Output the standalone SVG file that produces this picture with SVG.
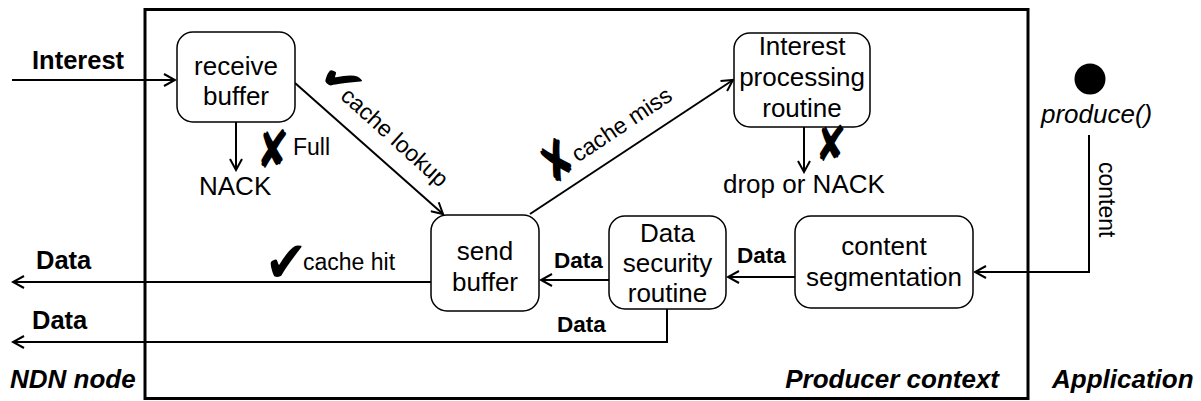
<svg xmlns="http://www.w3.org/2000/svg" width="1201" height="401" viewBox="0 0 1201 401">
<style>
text{font-family:"Liberation Sans",Arial,sans-serif;fill:#000}
.n{font-size:26px;text-anchor:middle}
.t{font-size:26px}
.s{font-size:23px}
.b{font-size:25.5px;font-weight:bold}
.bs{font-size:22.5px;font-weight:bold}
.bi{font-size:26px;font-weight:bold;font-style:italic}
.i{font-size:26px;font-style:italic}
.sym{font-family:"DejaVu Sans",sans-serif;font-size:34px;text-anchor:middle}
.box{fill:#fff;stroke:#000;stroke-width:1.5}
.c{fill:none;stroke:#000;stroke-width:2}
</style>
<defs>
<marker id="arr" markerWidth="14" markerHeight="14" refX="12" refY="7" orient="auto" markerUnits="userSpaceOnUse">
<path d="M1,1 L12,7 L1,13" fill="none" stroke="#000" stroke-width="2"/>
</marker>
</defs>
<rect id="producer-context" x="145" y="9.5" width="883" height="389" fill="none" stroke="#000" stroke-width="3"/>
<g id="connectors">
<line class="c" x1="12" y1="80" x2="175" y2="80" marker-end="url(#arr)"/>
<line class="c" x1="236" y1="122" x2="236" y2="170" marker-end="url(#arr)"/>
<line class="c" x1="295" y1="83" x2="443" y2="214" marker-end="url(#arr)"/>
<line class="c" x1="530" y1="214" x2="733" y2="80" marker-end="url(#arr)"/>
<line class="c" x1="804" y1="127" x2="804" y2="172" marker-end="url(#arr)"/>
<polyline class="c" points="1089,135 1089,272 975,272" marker-end="url(#arr)"/>
<line class="c" x1="795" y1="277" x2="728" y2="277" marker-end="url(#arr)"/>
<line class="c" x1="609" y1="280" x2="541" y2="280" marker-end="url(#arr)"/>
<line class="c" x1="431" y1="282" x2="13" y2="282" marker-end="url(#arr)"/>
<polyline class="c" points="667,309 667,342 13,342" marker-end="url(#arr)"/>
</g>
<g id="receive-buffer">
<rect class="box" x="177" y="32" width="118" height="90" rx="16"/>
<text class="n" x="236" y="75">receive</text>
<text class="n" x="236" y="105">buffer</text>
</g>
<g id="send-buffer">
<rect class="box" x="431" y="215" width="108" height="96" rx="16"/>
<text class="n" x="485" y="260">send</text>
<text class="n" x="485" y="291">buffer</text>
</g>
<g id="interest-processing-routine">
<rect class="box" x="734" y="33" width="136" height="94" rx="16"/>
<text class="n" x="802" y="55">Interest</text>
<text class="n" x="802" y="86">processing</text>
<text class="n" x="802" y="117">routine</text>
</g>
<g id="data-security-routine">
<rect class="box" x="609" y="216" width="117" height="93" rx="16"/>
<text class="n" x="667.5" y="242">Data</text>
<text class="n" x="667.5" y="272">security</text>
<text class="n" x="667.5" y="302">routine</text>
</g>
<g id="content-segmentation">
<rect class="box" x="795" y="216" width="178" height="92" rx="16"/>
<text class="n" x="884" y="255">content</text>
<text class="n" x="884" y="286">segmentation</text>
</g>
<g id="produce">
<circle cx="1090" cy="79" r="15.5" fill="#000"/>
<text class="i" x="1041" y="123">produce()</text>
</g>
<g id="labels">
<text class="b" x="32" y="69">Interest</text>
<text class="t" x="199" y="195">NACK</text>
<text class="s" x="293" y="155">Full</text>
<text class="t" x="723" y="193">drop or NACK</text>
<text class="s" transform="translate(389.5,143) rotate(42)" text-anchor="middle">cache lookup</text>
<text class="s" transform="translate(626,131) rotate(-33.6)" text-anchor="middle">cache miss</text>
<text class="s" x="303" y="270">cache hit</text>
<text class="s" transform="translate(1099,162) rotate(90)">content</text>
<text class="b" x="36" y="269">Data</text>
<text class="b" x="32" y="329">Data</text>
<text class="bs" x="554" y="268">Data</text>
<text class="bs" x="737" y="263">Data</text>
<text class="bs" x="557" y="332">Data</text>
<text class="bi" x="10" y="388">NDN node</text>
<text class="bi" x="999" y="388" text-anchor="end">Producer context</text>
<text class="bi" x="1052" y="388">Application</text>
<text class="sym" transform="translate(273,149) scale(1.15,1.55)"><tspan x="0" y="12">✘</tspan></text>
<text class="sym" transform="translate(831,144) scale(1.1,1.45)"><tspan x="0" y="12">✘</tspan></text>
<text class="sym" transform="translate(557,161) rotate(-33) scale(1.15,1.6)"><tspan x="0" y="12">✘</tspan></text>
<text class="sym" transform="translate(286,262) scale(1.5,1.7)"><tspan x="0" y="12">✔</tspan></text>
<text class="sym" transform="translate(342,80) rotate(42) scale(1.5,1.4)"><tspan x="0" y="12">✔</tspan></text>
</g>
</svg>
